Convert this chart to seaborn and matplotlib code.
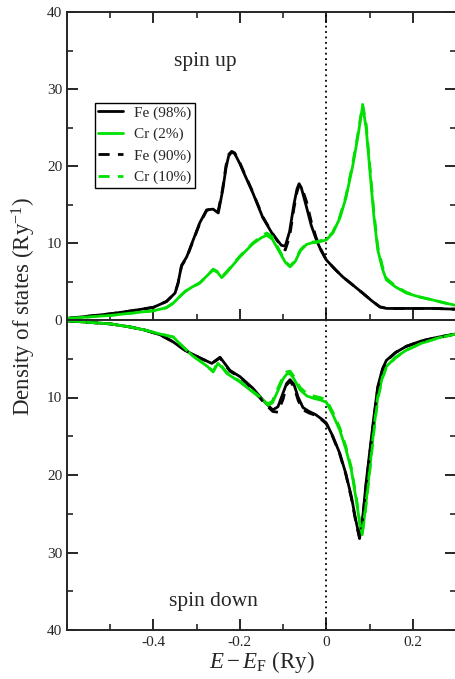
import numpy as np
import pandas as pd
import matplotlib
matplotlib.use("Agg")
import matplotlib.pyplot as plt
import seaborn as sns
from matplotlib.ticker import MultipleLocator

# ---------------- data ----------------
# spin up
x_fe_up = [-0.6, -0.55, -0.5, -0.45, -0.40, -0.37, -0.35, -0.343, -0.335, -0.323, -0.308, -0.293,
           -0.277, -0.262, -0.25, -0.24, -0.232, -0.226, -0.219, -0.212, -0.2, -0.19, -0.17,
           -0.147, -0.125, -0.104, -0.095, -0.085, -0.075, -0.068, -0.063, -0.058, -0.046,
           -0.035, -0.023, -0.012, 0.0, 0.02, 0.038, 0.06, 0.084, 0.105, 0.124, 0.14, 0.2,
           0.25, 0.3]
fe98_up = [0.2, 0.5, 0.8, 1.2, 1.65, 2.4, 3.5, 4.8, 7.1, 8.2, 10.4, 12.6,
           14.3, 14.4, 13.9, 16.8, 19.8, 21.3, 21.8, 21.6, 20.3, 19.0, 16.5,
           13.3, 11.2, 9.7, 9.6, 11.5, 15.0, 17.0, 17.7, 17.2, 14.7,
           12.3, 10.4, 9.0, 7.8, 6.6, 5.6, 4.6, 3.5, 2.5, 1.7, 1.5, 1.5,
           1.5, 1.4]
fe90_up = [0.2, 0.5, 0.8, 1.2, 1.65, 2.4, 3.5, 4.8, 7.0, 8.1, 10.3, 12.5,
           14.2, 14.6, 14.2, 17.0, 20.1, 21.5, 21.9, 21.7, 20.4, 19.1, 16.6,
           13.4, 11.3, 9.5, 9.1, 10.8, 14.5, 16.6, 17.5, 17.4, 15.4,
           12.8, 10.6, 9.1, 7.8, 6.6, 5.6, 4.6, 3.5, 2.5, 1.7, 1.5, 1.5,
           1.5, 1.4]

x_cr_up = [-0.6, -0.55, -0.5, -0.45, -0.40, -0.37, -0.354, -0.34, -0.327, -0.31, -0.293, -0.275,
           -0.262, -0.252, -0.242, -0.23, -0.2, -0.17, -0.15, -0.138, -0.125, -0.11, -0.095,
           -0.084, -0.072, -0.06, -0.046, -0.035, -0.02, 0.0, 0.015, 0.031, 0.045, 0.061,
           0.072, 0.084, 0.092, 0.1, 0.11, 0.119, 0.13, 0.139, 0.16, 0.185, 0.215, 0.246,
           0.275, 0.3]
cr2_up = [0.2, 0.4, 0.6, 0.9, 1.2, 1.6, 2.2, 3.0, 3.7, 4.3, 4.8, 5.8,
          6.5, 6.2, 5.5, 6.2, 8.2, 9.9, 10.7, 11.0, 10.5, 9.0, 7.5,
          6.9, 7.6, 9.0, 9.8, 10.0, 10.1, 10.4, 11.3, 13.2, 15.8, 20.0,
          23.5, 27.8, 25.0, 19.9, 13.5, 9.1, 6.6, 5.2, 4.3, 3.5, 3.0, 2.6,
          2.2, 1.9]
cr10_up = [0.2, 0.4, 0.6, 0.9, 1.2, 1.6, 2.2, 3.0, 3.7, 4.3, 4.8, 5.8,
           6.6, 6.3, 5.6, 6.3, 8.3, 10.0, 10.9, 11.3, 10.8, 9.2, 7.6,
           7.0, 7.7, 9.1, 9.9, 10.1, 10.2, 10.5, 11.4, 13.4, 16.0, 20.3,
           23.8, 28.0, 25.5, 20.4, 14.0, 9.5, 6.9, 5.4, 4.4, 3.6, 3.0, 2.6,
           2.2, 1.9]

# spin down (plotted downwards)
x_fe_dn = [-0.6, -0.55, -0.5, -0.454, -0.42, -0.385, -0.355, -0.34, -0.327, -0.31, -0.292,
           -0.265, -0.246, -0.223, -0.2, -0.17, -0.147, -0.135, -0.124, -0.112, -0.1,
           -0.092, -0.084, -0.075, -0.065, -0.054, -0.04, -0.025, -0.008, 0.0, 0.015,
           0.031, 0.045, 0.058, 0.068, 0.077, 0.085, 0.092, 0.1, 0.11, 0.119, 0.13, 0.139,
           0.16, 0.185, 0.22, 0.26, 0.3]
fe98_dn = [0.1, 0.3, 0.5, 0.9, 1.3, 1.9, 2.8, 3.4, 3.9, 4.4, 4.9,
           5.6, 4.8, 6.5, 7.3, 8.8, 10.3, 11.0, 11.6, 11.2, 9.4,
           8.2, 7.7, 8.3, 10.0, 11.3, 11.8, 12.2, 12.9, 13.3, 15.0,
           17.2, 19.8, 22.8, 25.8, 28.1, 25.0, 21.0, 17.2, 12.5, 8.6, 6.3, 5.2,
           4.2, 3.4, 2.7, 2.2, 1.8]
fe90_dn = [0.1, 0.3, 0.5, 0.9, 1.3, 1.9, 2.8, 3.4, 3.9, 4.4, 4.9,
           5.6, 4.9, 6.6, 7.4, 8.9, 10.5, 11.2, 11.8, 11.9, 10.2,
           8.4, 7.9, 8.6, 10.4, 11.6, 12.0, 12.3, 13.0, 13.4, 15.1,
           17.3, 19.9, 23.0, 26.0, 28.2, 25.3, 21.3, 17.5, 12.8, 8.8, 6.4, 5.3,
           4.2, 3.4, 2.7, 2.2, 1.8]

x_cr_dn = [-0.6, -0.55, -0.5, -0.454, -0.42, -0.385, -0.354, -0.34, -0.327, -0.31, -0.292,
           -0.275, -0.262, -0.251, -0.24, -0.23, -0.2, -0.17, -0.147, -0.135, -0.125,
           -0.115, -0.1, -0.092, -0.084, -0.075, -0.061, -0.045, -0.03, -0.015, 0.0,
           0.015, 0.031, 0.045, 0.058, 0.07, 0.078, 0.083, 0.09, 0.1, 0.11, 0.119, 0.13,
           0.139, 0.16, 0.185, 0.22, 0.26, 0.3]
cr2_dn = [0.1, 0.3, 0.5, 0.9, 1.3, 1.8, 2.2, 3.0, 3.7, 4.6, 5.3,
          6.0, 6.7, 5.6, 6.2, 6.9, 8.0, 9.3, 10.3, 11.0, 10.7,
          9.5, 7.6, 7.0, 6.9, 7.6, 9.0, 9.8, 10.1, 10.3, 10.6,
          12.2, 14.2, 16.6, 19.4, 23.5, 26.5, 27.7, 24.5, 19.4, 14.0, 9.9, 7.3,
          6.0, 4.8, 3.9, 3.0, 2.3, 1.8]
cr10_dn = [0.1, 0.3, 0.5, 0.9, 1.3, 1.8, 2.2, 3.0, 3.7, 4.6, 5.3,
           6.0, 6.6, 5.5, 6.1, 6.8, 7.9, 9.2, 10.2, 10.8, 10.5,
           9.2, 7.3, 6.7, 6.6, 7.3, 8.7, 9.5, 9.8, 10.0, 10.3,
           11.9, 13.9, 16.3, 19.1, 23.2, 26.3, 27.6, 24.8, 19.8, 14.4, 10.2, 7.5,
           6.1, 4.9, 3.9, 3.0, 2.3, 1.8]

labels = ["Fe (98%)", "Cr (2%)", "Fe (90%)", "Cr (10%)"]
x_ticks = [-0.4, -0.2, 0.0, 0.2]
x_ticklabels = ["-0.4", "-0.2", "0", "0.2"]
y_ticks = [0, 10, 20, 30, 40]

# ---------------- style ----------------
sns.set_style("ticks")
plt.rcParams["font.family"] = ["Liberation Serif", "DejaVu Serif"]
plt.rcParams["mathtext.fontset"] = "custom"
plt.rcParams["mathtext.rm"] = "Liberation Serif"
plt.rcParams["mathtext.it"] = "Liberation Serif:italic"
plt.rcParams["axes.unicode_minus"] = False

GREEN = "#00e000"
BLACK = "#000000"
LW = 2.0

fig = plt.figure(figsize=(4.55, 6.79), dpi=100)
L, R = 67 / 455, 456 / 455
y_top, y_mid, y_bot = 1 - 12 / 679, 1 - 320 / 679, 1 - 630 / 679
ax_up = fig.add_axes([L, y_mid, R - L, y_top - y_mid])
ax_dn = fig.add_axes([L, y_bot, R - L, y_mid - y_bot], sharex=ax_up)

def draw(ax, xs, ys, color, ls, label):
    df = pd.DataFrame({"x": xs, "y": ys})
    sns.lineplot(data=df, x="x", y="y", ax=ax, color=color, linestyle=ls,
                 linewidth=LW, estimator=None, sort=False, label=label)

draw(ax_up, x_fe_up, fe98_up, BLACK, "-", labels[0])
draw(ax_up, x_cr_up, cr2_up, GREEN, "-", labels[1])
draw(ax_up, x_fe_up, fe90_up, BLACK, (0, (4, 3)), labels[2])
draw(ax_up, x_cr_up, cr10_up, GREEN, (0, (4, 3)), labels[3])

draw(ax_dn, x_fe_dn, fe98_dn, BLACK, "-", None)
draw(ax_dn, x_cr_dn, cr2_dn, GREEN, "-", None)
draw(ax_dn, x_fe_dn, fe90_dn, BLACK, (0, (4, 3)), None)
draw(ax_dn, x_cr_dn, cr10_dn, GREEN, (0, (4, 3)), None)

for ax in (ax_up, ax_dn):
    ax.axvline(0.0, color="black", linestyle=(0, (1, 2.0)), linewidth=1.3, zorder=1)
    ax.set_xlim(-0.6, 0.3)
    ax.xaxis.set_minor_locator(MultipleLocator(0.1))
    ax.yaxis.set_minor_locator(MultipleLocator(5))
    ax.set_xlabel("")
    ax.set_ylabel("")
    for s in ax.spines.values():
        s.set_linewidth(1.4)
    ax.tick_params(which="major", direction="in", length=8, width=1.4, labelsize=11)
    ax.tick_params(which="minor", direction="in", length=4.5, width=1.2)

ax_up.set_ylim(0, 40)
ax_up.set_yticks(y_ticks)
ax_up.tick_params(which="both", top=True, bottom=True, left=True, right=True,
                  labelbottom=False)

ax_dn.set_ylim(40, 0)
ax_dn.set_yticks(y_ticks)
ax_dn.set_yticklabels([""] + [str(v) for v in y_ticks[1:]])
ax_dn.set_xticks(x_ticks)
ax_dn.set_xticklabels(x_ticklabels)
ax_dn.tick_params(which="both", top=False, bottom=True, left=True, right=True)
ax_dn.tick_params(axis="x", pad=4)

ax_dn.set_xlabel(r"$E - E_\mathrm{F}$ (Ry)", fontsize=16.5, labelpad=0)
fig.text(0.053, 1 - 307 / 679, r"Density of states (Ry$^{-1}$)", rotation=90,
         fontsize=16.5, ha="center", va="center")

ax_up.text(-0.281, 33.6, "spin up", fontsize=15.5, ha="center", va="center")
ax_dn.text(-0.262, 36.3, "spin down", fontsize=15.5, ha="center", va="center")

leg = ax_up.legend(loc="upper left", bbox_to_anchor=(0.073, 0.7045), fontsize=11,
                   frameon=True, fancybox=False, edgecolor="black", framealpha=1,
                   handlelength=1.6, handletextpad=0.75, labelspacing=0.5,
                   borderpad=0.2, borderaxespad=0)
leg.get_frame().set_linewidth(1.0)
if ax_dn.get_legend() is not None:
    ax_dn.get_legend().remove()

fig.savefig("out.png", dpi=100)
